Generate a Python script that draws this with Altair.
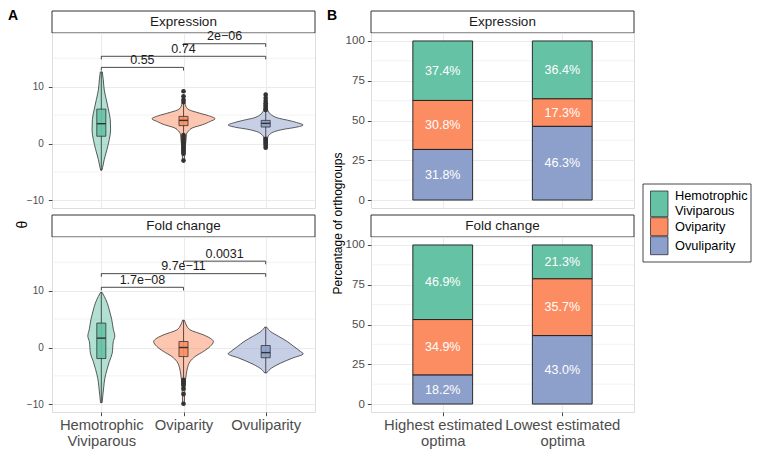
import altair as alt
import pandas as pd

# ---------------- data ----------------
groups = ["Hemotrophic Viviparous", "Oviparity", "Ovuliparity"]
group_label_lines = [["Hemotrophic", "Viviparous"], ["Oviparity"], ["Ovuliparity"]]
palette = ["#66C2A5", "#FC8D62", "#8DA0CB"]
facets = ["Expression", "Fold change"]

# violin outlines: value (theta) and half-width (in x-axis units)
viol_expr_hv_v = [12.6, 11.2, 9.4, 7.7, 5.9, 4.2, 2.4, 0.7, -1.05, -2.8, -4.2, -4.7]
viol_expr_hv_w = [0.012, 0.024, 0.036, 0.061, 0.088, 0.109, 0.113, 0.097, 0.069, 0.036, 0.016, 0.008]
viol_expr_ovi_v = [7.2, 6.5, 5.9, 5.35, 4.9, 4.35, 3.9, 3.3, 2.75, 2.2, 1.6, 0.5, -0.5, -2.9]
viol_expr_ovi_w = [0.018, 0.030, 0.073, 0.194, 0.303, 0.384, 0.327, 0.230, 0.109, 0.061, 0.036, 0.030, 0.021, 0.012]
viol_expr_ovu_v = [6.3, 5.7, 5.0, 4.5, 4.1, 3.7, 3.25, 2.85, 2.5, 2.1, 1.6, 1.0, 0.2, -0.75]
viol_expr_ovu_w = [0.015, 0.030, 0.073, 0.145, 0.267, 0.376, 0.455, 0.364, 0.218, 0.109, 0.048, 0.024, 0.018, 0.012]
viol_fc_hv_v = [9.7, 9.0, 7.8, 6.6, 4.9, 3.3, 2.0, 1.0, 0.0, -1.0, -2.5, -3.9, -5.5, -6.9, -8.5, -9.7]
viol_fc_hv_w = [0.010, 0.036, 0.073, 0.097, 0.127, 0.145, 0.164, 0.145, 0.139, 0.133, 0.097, 0.069, 0.042, 0.030, 0.018, 0.010]
viol_fc_ovi_v = [4.8, 4.0, 3.1, 2.23, 1.65, 1.06, 0.18, -0.7, -1.58, -2.46, -3.6, -4.8, -5.7, -7.0, -9.9]
viol_fc_ovi_w = [0.012, 0.033, 0.081, 0.242, 0.324, 0.364, 0.324, 0.242, 0.142, 0.081, 0.048, 0.033, 0.024, 0.018, 0.010]
viol_fc_ovu_v = [3.58, 2.8, 1.93, 1.05, 0.18, -0.7, -1.1, -1.87, -2.75, -3.6, -4.47]
viol_fc_ovu_w = [0.012, 0.061, 0.161, 0.263, 0.343, 0.424, 0.457, 0.324, 0.182, 0.073, 0.012]

# box statistics per group (HV, Ovi, Ovu)
box_expr_q1 = [1.28, 3.14, 2.90]
box_expr_med = [3.49, 4.07, 3.55]
box_expr_q3 = [6.05, 4.77, 4.07]
box_expr_lo = [-4.7, 1.7, 1.1]
box_expr_hi = [12.6, 7.0, 5.8]
box_fc_q1 = [-1.94, -1.60, -1.80]
box_fc_med = [1.65, 0.00, -0.90]
box_fc_q3 = [4.30, 1.06, 0.35]
box_fc_lo = [-9.7, -5.5, -4.47]
box_fc_hi = [9.7, 4.8, 3.58]

# outliers
out_expr_ovi = [9.2, 8.3, 7.7, 7.3, 1.5, 1.2, 0.9, 0.6, 0.3, 0.0, -0.3, -0.6, -0.9, -1.2, -1.5, -1.8, -3.0]
out_expr_ovu = [8.6, 8.0, 7.5, 7.1, 6.8, 6.5, 6.2, 5.9, 0.8, 0.5, 0.2, -0.1, -0.4, -0.75]
out_fc_ovi = [-5.7, -6.0, -6.3, -6.6, -7.26, -8.2, -9.9]

# significance brackets: (group a, group b), height, p-value label
br_pairs = [(1, 2), (1, 3), (2, 3)]
br_expr_y = [13.4, 15.35, 17.56]
br_expr_lab = ["0.55", "0.74", "2e\u221206"]
br_fc_y = [10.6, 13.0, 15.2]
br_fc_lab = ["1.7e\u221208", "9.7e\u221211", "0.0031"]

# panel B stacked percentages
optima = ["Highest estimated optima", "Lowest estimated optima"]
optima_lines = [["Highest estimated", "optima"], ["Lowest estimated", "optima"]]
pct_expr_hv = [37.4, 36.4]
pct_expr_ovi = [30.8, 17.3]
pct_expr_ovu = [31.8, 46.3]
pct_fc_hv = [46.9, 21.3]
pct_fc_ovi = [34.9, 35.7]
pct_fc_ovu = [18.2, 43.0]

# ---------------- tables ----------------
viol_profiles = {
    "Expression": [(viol_expr_hv_v, viol_expr_hv_w), (viol_expr_ovi_v, viol_expr_ovi_w), (viol_expr_ovu_v, viol_expr_ovu_w)],
    "Fold change": [(viol_fc_hv_v, viol_fc_hv_w), (viol_fc_ovi_v, viol_fc_ovi_w), (viol_fc_ovu_v, viol_fc_ovu_w)],
}
box_stats = {
    "Expression": (box_expr_q1, box_expr_med, box_expr_q3, box_expr_lo, box_expr_hi),
    "Fold change": (box_fc_q1, box_fc_med, box_fc_q3, box_fc_lo, box_fc_hi),
}
outliers = {
    "Expression": [[], out_expr_ovi, out_expr_ovu],
    "Fold change": [[], out_fc_ovi, []],
}
brackets = {
    "Expression": (br_expr_y, br_expr_lab),
    "Fold change": (br_fc_y, br_fc_lab),
}
pcts = {
    "Expression": [pct_expr_hv, pct_expr_ovi, pct_expr_ovu],
    "Fold change": [pct_fc_hv, pct_fc_ovi, pct_fc_ovu],
}

W, H, SH, GAP = 263, 175, 22, 7
GRID = "#EBEBEB"
INK = "#333333"
FONT = "Liberation Sans"
cscale = alt.Scale(domain=groups, range=palette)
BOX_HALF = 0.055
TIP = 0.55


def label_expr_for(values, lines_list, key="datum.value"):
    expr = "''"
    for v, lines in reversed(list(zip(values, lines_list))):
        if len(lines) == 1:
            lab = "'%s'" % lines[0]
        else:
            lab = "[" + ",".join("'%s'" % s for s in lines) + "]"
        expr = "%s == %s ? %s : (%s)" % (key, v, lab, expr)
    return expr


def strip(name, letter=None, gap=0):
    # strip frame drawn as a decoration below an optional gap
    frame = alt.Chart(pd.DataFrame({"t": [name]})).mark_rect(
        fill="white", stroke=INK, strokeWidth=1
    ).encode(x=alt.value(0), x2=alt.value(W), y=alt.value(gap), y2=alt.value(gap + SH))
    layers = [
        frame,
        alt.Chart(pd.DataFrame({"t": [name]}))
        .mark_text(fontSize=13.5, color="#1A1A1A", baseline="middle", font=FONT)
        .encode(text="t:N", x=alt.value(W / 2), y=alt.value(gap + SH / 2)),
    ]
    if letter:
        layers.append(
            alt.Chart(pd.DataFrame({"t": [letter]}))
            .mark_text(fontSize=14, fontWeight="bold", align="left", baseline="alphabetic", color="black", font=FONT)
            .encode(text="t:N", x=alt.value(-44), y=alt.value(8.5))
        )
    return alt.layer(*layers).properties(width=W, height=SH + gap, view=alt.ViewBackground(stroke=None))


def legend_layers():
    # legend box placed to the right of the top-right panel (ggplot-style keys)
    lx0, lx1, ly0, ly1 = 272, 380, 151, 229
    kx0, kx1 = 279.5, 297
    layers = [
        alt.Chart(pd.DataFrame({"t": ["legend"]})).mark_rect(fill="white", stroke="#1A1A1A", strokeWidth=0.8)
        .encode(x=alt.value(lx0), x2=alt.value(lx1), y=alt.value(ly0), y2=alt.value(ly1))
    ]
    y = 158.0
    for g, lines in zip(groups, group_label_lines):
        h = 18 + 7.7 * (len(lines) - 1)
        d = pd.DataFrame({"group": [g], "lab": [lines]})
        layers.append(
            alt.Chart(d).mark_rect(stroke="#1A1A1A", strokeWidth=0.7).encode(
                x=alt.value(kx0), x2=alt.value(kx1), y=alt.value(y), y2=alt.value(y + h),
                fill=alt.Fill("group:N", scale=cscale, legend=None))
        )
        layers.append(
            alt.Chart(d).mark_text(align="left", baseline="middle", fontSize=12.8, lineHeight=15,
                                   color="#000", font=FONT).encode(
                x=alt.value(304), y=alt.value(y + h / 2 - 7.5 * (len(lines) - 1)), text="lab")
        )
        y += h + 1
    return layers


def violin_panel(facet, bottom, ytitle):
    xs = alt.Scale(domain=[0.4, 3.6], nice=False, zero=False)
    ys = alt.Scale(domain=[-11.35, 19.45], nice=False, zero=False)
    if bottom:
        xaxis = alt.Axis(values=[1, 2, 3], labelExpr=label_expr_for([1, 2, 3], group_label_lines),
                         grid=True, gridColor=GRID, gridWidth=1.1, domain=False, ticks=True,
                         tickColor=INK, tickSize=3.7, tickWidth=0.9, labelColor="#4D4D4D",
                         labelFontSize=14.8, labelPadding=2, labelLineHeight=16, title=None, labelFont=FONT)
    else:
        xaxis = alt.Axis(values=[1, 2, 3], grid=True, gridColor=GRID, gridWidth=1.1, domain=False,
                         ticks=False, labels=False, title=None)
    yargs = dict(values=[-10, 0, 10], grid=True, gridColor=GRID, gridWidth=1.1, domain=False, ticks=True,
                 tickColor=INK, tickSize=3.7, tickWidth=0.9, labelColor="#4D4D4D", labelFontSize=10,
                 labelPadding=5, labelFont=FONT)
    if ytitle:
        yargs.update(title="\u03b8", titleX=-30, titleY=191, titleAngle=270, titleAlign="center",
                     titleBaseline="middle", titleFontSize=14, titleFontWeight="normal", titleColor="#000",
                     titleFont=FONT)
    else:
        yargs.update(title=None)
    yaxis = alt.Axis(**yargs)

    def X(f):
        return alt.X(f, type="quantitative", scale=xs, axis=xaxis)

    def Y(f):
        return alt.Y(f, type="quantitative", scale=ys, axis=yaxis)

    fill = alt.Fill("group:N", scale=cscale, legend=None)

    vrows = []
    for gi, (vs, ws) in enumerate(viol_profiles[facet]):
        for v, w in zip(vs, ws):
            vrows.append(dict(group=groups[gi], v=v, lo=gi + 1 - w, hi=gi + 1 + w))
    vdf = pd.DataFrame(vrows)

    q1, med, q3, lo, hi = box_stats[facet]
    bdf = pd.DataFrame(dict(group=groups, pos=[1, 2, 3], q1=q1, med=med, q3=q3, lo=lo, hi=hi))
    bdf["bl"] = bdf["pos"] - BOX_HALF
    bdf["br"] = bdf["pos"] + BOX_HALF

    orows = []
    for gi, vals in enumerate(outliers[facet]):
        for v in vals:
            orows.append(dict(pos=gi + 1, v=v))
    odf = pd.DataFrame(orows)

    by, blab = brackets[facet]
    brdf = pd.DataFrame(dict(x1=[p[0] for p in br_pairs], x2=[p[1] for p in br_pairs], yb=by, lab=blab))
    brdf["xm"] = (brdf["x1"] + brdf["x2"]) / 2
    brdf["yt"] = brdf["yb"] - TIP

    minor = alt.Chart(pd.DataFrame({"v": [-5, 5, 15]})).mark_rule(color=GRID, strokeWidth=0.6).encode(y=Y("v"))
    viol = alt.Chart(vdf).mark_area(orient="horizontal", interpolate="monotone", stroke=INK,
                                    strokeWidth=0.8, fillOpacity=0.5).encode(
        y=Y("v"), x=X("lo"), x2="hi", fill=fill, detail="group:N")
    whisk = alt.Chart(bdf).mark_rule(color=INK, strokeWidth=0.8).encode(x=X("pos"), y=Y("lo"), y2="hi")
    box = alt.Chart(bdf).mark_rect(stroke=INK, strokeWidth=0.8, fillOpacity=0.9).encode(
        x=X("bl"), x2="br", y=Y("q1"), y2="q3", fill=fill)
    medl = alt.Chart(bdf).mark_rule(color=INK, strokeWidth=1.4).encode(x=X("bl"), x2="br", y=Y("med"))
    brl = alt.Chart(brdf).mark_rule(color="#1A1A1A", strokeWidth=0.8).encode(x=X("x1"), x2="x2", y=Y("yb"))
    brt1 = alt.Chart(brdf).mark_rule(color="#1A1A1A", strokeWidth=0.8).encode(x=X("x1"), y=Y("yb"), y2="yt")
    brt2 = alt.Chart(brdf).mark_rule(color="#1A1A1A", strokeWidth=0.8).encode(x=X("x2"), y=Y("yb"), y2="yt")
    brtx = alt.Chart(brdf).mark_text(fontSize=12.5, baseline="bottom", dy=-0.5, color="#1A1A1A", font=FONT).encode(
        x=X("xm"), y=Y("yb"), text="lab:N")
    layers = [minor, viol, whisk, box, medl]
    if len(odf):
        layers.append(alt.Chart(odf).mark_circle(size=22, color=INK, opacity=1).encode(x=X("pos"), y=Y("v")))
    layers += [brl, brt1, brt2, brtx]
    return alt.layer(*layers).properties(width=W, height=H)


def bar_panel(facet, bottom, ytitle, legend):
    xs = alt.Scale(domain=[0.4, 2.6], nice=False, zero=False)
    ys = alt.Scale(domain=[-5, 105], nice=False, zero=False)
    if bottom:
        xaxis = alt.Axis(values=[1, 2], labelExpr=label_expr_for([1, 2], optima_lines),
                         grid=True, gridColor=GRID, gridWidth=1.1, domain=False, ticks=True,
                         tickColor=INK, tickSize=3.7, tickWidth=0.9, labelColor="#4D4D4D",
                         labelFontSize=14.8, labelPadding=2, labelLineHeight=16, title=None, labelFont=FONT)
    else:
        xaxis = alt.Axis(values=[1, 2], grid=True, gridColor=GRID, gridWidth=1.1, domain=False,
                         ticks=False, labels=False, title=None)
    yargs = dict(values=[0, 25, 50, 75, 100], grid=True, gridColor=GRID, gridWidth=1.1, domain=False,
                 ticks=True, tickColor=INK, tickSize=3.7, tickWidth=0.9, labelColor="#4D4D4D",
                 labelFontSize=11.5, labelPadding=3, labelFont=FONT)
    if ytitle:
        yargs.update(title="Percentage of orthogroups", titleX=-34, titleY=190, titleAngle=270,
                     titleAlign="center", titleBaseline="middle", titleFontSize=12,
                     titleFontWeight="normal", titleColor="#000", titleFont=FONT)
    else:
        yargs.update(title=None)
    yaxis = alt.Axis(**yargs)

    def X(f):
        return alt.X(f, type="quantitative", scale=xs, axis=xaxis)

    def Y(f):
        return alt.Y(f, type="quantitative", scale=ys, axis=yaxis)

    rows = []
    for gi, vals in enumerate(pcts[facet]):
        for oi, p in enumerate(vals):
            rows.append(dict(group=groups[gi], ord=2 - gi, opt=optima[oi], pos=oi + 1, pct=p))
    df = pd.DataFrame(rows)

    fill = alt.Fill("group:N", scale=cscale, legend=None)

    base = alt.Chart(df).transform_stack(
        stack="pct", groupby=["pos"], sort=[alt.SortField("ord", order="ascending")], as_=["y0", "y1"]
    ).transform_calculate(
        mid="(datum.y0 + datum.y1) / 2", xl="datum.pos - 0.25", xr="datum.pos + 0.25",
        lab="format(datum.pct, '.1f') + '%'"
    )
    minor = alt.Chart(pd.DataFrame({"v": [12.5, 37.5, 62.5, 87.5]})).mark_rule(color=GRID, strokeWidth=0.6).encode(y=Y("v"))
    bars = base.mark_rect(stroke="#1A1A1A", strokeWidth=0.9).encode(
        x=X("xl"), x2="xr", y=Y("y0"), y2="y1", fill=fill)
    txt = base.mark_text(color="white", fontSize=12.5, font=FONT).encode(x=X("pos"), y=Y("mid"), text="lab:N")
    layers = [minor, bars, txt]
    if legend:
        layers += legend_layers()
    return alt.layer(*layers).properties(width=W, height=H)


cells = [
    strip(facets[0], "A"), strip(facets[0], "B"),
    violin_panel(facets[0], False, True), bar_panel(facets[0], False, True, True),
    strip(facets[1], gap=GAP), strip(facets[1], gap=GAP),
    violin_panel(facets[1], True, False), bar_panel(facets[1], True, False, False),
]

chart = alt.concat(*cells, columns=2, spacing={"row": 0, "column": 56}, bounds="flush").properties(
    padding={"left": 0, "top": 0, "right": 0, "bottom": 0}
).configure_view(stroke=INK, strokeWidth=1).configure(font=FONT)

chart.save("out.html", embed_options={"renderer": "svg", "actions": False})
